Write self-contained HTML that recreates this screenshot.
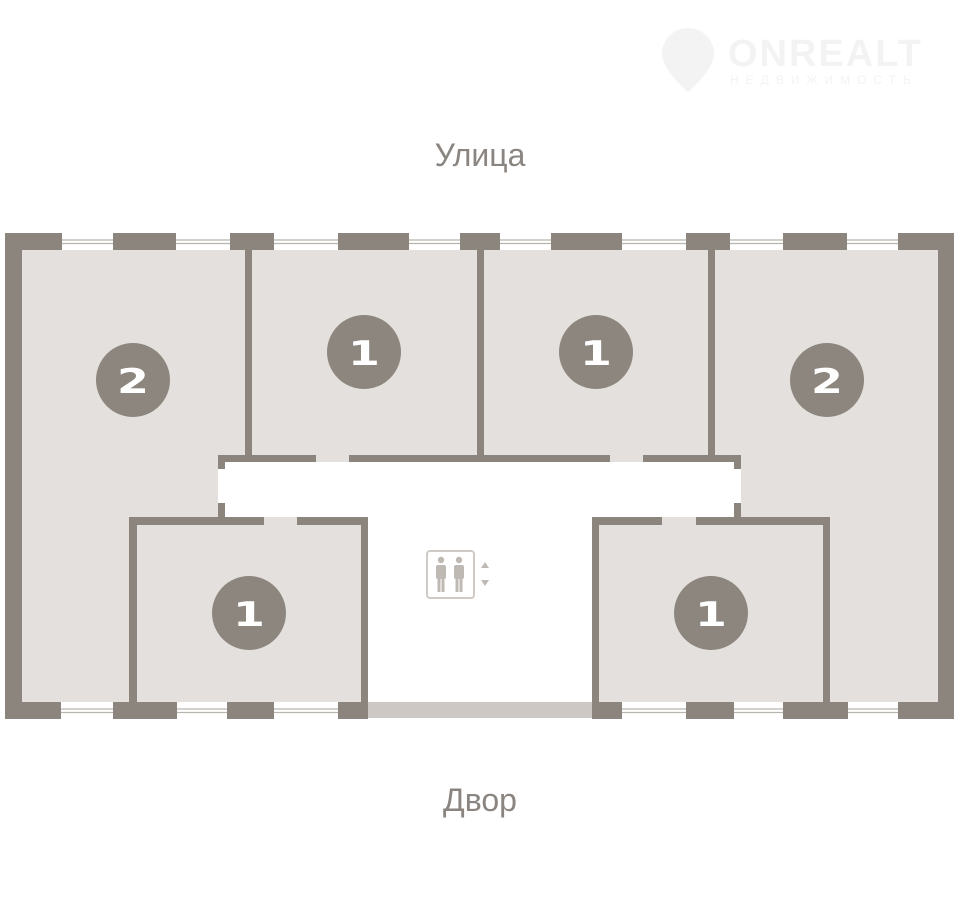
<!DOCTYPE html>
<html><head><meta charset="utf-8"><style>
html,body{margin:0;padding:0;background:#fff;}
svg{display:block;}
</style></head><body>
<svg width="960" height="910" viewBox="0 0 960 910" xmlns="http://www.w3.org/2000/svg">
<rect width="960" height="910" fill="#fff"/>
<!-- logo (faint) -->
<g fill="#f3f3f3">
<path d="M688 28 a26 26 0 0 1 26 26 c0 16 -26 38 -26 38 c0 0 -26 -22 -26 -38 a26 26 0 0 1 26 -26z"/>
<text x="728" y="66" font-family="Liberation Sans, sans-serif" font-weight="bold" font-size="38" letter-spacing="2">ONREALT</text>
<text x="730" y="84" font-family="Liberation Sans, sans-serif" font-size="12" letter-spacing="7">НЕДВИЖИМОСТЬ</text>
</g>
<text x="480" y="166" text-anchor="middle" font-family="Liberation Sans, sans-serif" font-size="32" fill="#8a8580">Улица</text>
<text x="480" y="811" text-anchor="middle" font-family="Liberation Sans, sans-serif" font-size="32" fill="#8a8580">Двор</text>

<!-- floor fill -->
<rect x="22" y="250" width="916" height="452" fill="#e4e0dd"/>
<!-- corridor white -->
<rect x="218" y="462" width="523" height="55" fill="#fff"/>
<rect x="368" y="517" width="224" height="185" fill="#fff"/>
<rect x="368" y="702" width="224" height="16" fill="#cdc8c4"/>

<g fill="#8c857d">
<!-- outer left/right walls -->
<rect x="5" y="233" width="17" height="486"/>
<rect x="938" y="233" width="16" height="486"/>
<!-- top wall solids -->
<rect x="5" y="233" width="57" height="17"/>
<rect x="113" y="233" width="63" height="17"/>
<rect x="230" y="233" width="44" height="17"/>
<rect x="338" y="233" width="71" height="17"/>
<rect x="460" y="233" width="40" height="17"/>
<rect x="551" y="233" width="71" height="17"/>
<rect x="686" y="233" width="44" height="17"/>
<rect x="783" y="233" width="64" height="17"/>
<rect x="898" y="233" width="56" height="17"/>
<!-- bottom wall solids -->
<rect x="5" y="702" width="56" height="17"/>
<rect x="113" y="702" width="64" height="17"/>
<rect x="227" y="702" width="47" height="17"/>
<rect x="338" y="702" width="30" height="17"/>
<rect x="592" y="702" width="30" height="17"/>
<rect x="686" y="702" width="48" height="17"/>
<rect x="783" y="702" width="65" height="17"/>
<rect x="898" y="702" width="56" height="17"/>
<!-- partitions top -->
<rect x="245" y="250" width="7" height="212"/>
<rect x="477" y="250" width="7" height="212"/>
<rect x="708" y="250" width="7" height="212"/>
<!-- corridor top wall -->
<rect x="218" y="455" width="98" height="7"/>
<rect x="349" y="455" width="261" height="7"/>
<rect x="643" y="455" width="98" height="7"/>
<rect x="218" y="455" width="7" height="14"/>
<rect x="218" y="503" width="7" height="14"/>
<rect x="734" y="455" width="7" height="14"/>
<rect x="734" y="503" width="7" height="14"/>
<!-- lower left unit -->
<rect x="129" y="517" width="135" height="8"/>
<rect x="297" y="517" width="71" height="8"/>
<rect x="129" y="517" width="8" height="186"/>
<rect x="361" y="517" width="7" height="186"/>
<!-- lower right unit -->
<rect x="592" y="517" width="70" height="8"/>
<rect x="696" y="517" width="134" height="8"/>
<rect x="592" y="517" width="7" height="186"/>
<rect x="823" y="517" width="7" height="186"/>
</g>

<!-- windows -->
<g stroke="#b9b3ad" stroke-width="1.2">
<path d="M62 240H113M62 243.5H113M176 240H230M176 243.5H230M274 240H338M274 243.5H338M409 240H460M409 243.5H460M500 240H551M500 243.5H551M622 240H686M622 243.5H686M730 240H783M730 243.5H783M847 240H898M847 243.5H898"/>
<path d="M61 709H113M61 712.5H113M177 709H227M177 712.5H227M274 709H338M274 712.5H338M622 709H686M622 712.5H686M734 709H783M734 712.5H783M848 709H898M848 712.5H898"/>
</g>

<!-- circles -->
<g fill="#8d867e">
<circle cx="133" cy="380" r="37"/>
<circle cx="364" cy="352" r="37"/>
<circle cx="596" cy="352" r="37"/>
<circle cx="827" cy="380" r="37"/>
<circle cx="249" cy="613" r="37"/>
<circle cx="711" cy="613" r="37"/>
</g>
<g fill="#fff" font-family="DejaVu Sans, sans-serif" font-weight="bold" font-size="34" text-anchor="middle">
<text x="133" y="393" transform="translate(133 0) scale(1.35 1) translate(-133 0)">2</text>
<text x="364" y="365" transform="translate(364 0) scale(1.35 1) translate(-364 0)">1</text>
<text x="596" y="365" transform="translate(596 0) scale(1.35 1) translate(-596 0)">1</text>
<text x="827" y="393" transform="translate(827 0) scale(1.35 1) translate(-827 0)">2</text>
<text x="249" y="626" transform="translate(249 0) scale(1.35 1) translate(-249 0)">1</text>
<text x="711" y="626" transform="translate(711 0) scale(1.35 1) translate(-711 0)">1</text>
</g>

<!-- elevator icon -->
<rect x="427" y="551" width="47" height="47" rx="3" fill="none" stroke="#cfcac5" stroke-width="2"/>
<g fill="#bfb9b4">
<circle cx="441" cy="560" r="3.2"/>
<rect x="436" y="565" width="10" height="14" rx="2"/>
<rect x="437.5" y="578" width="3" height="14"/>
<rect x="441.5" y="578" width="3" height="14"/>
<circle cx="459" cy="560" r="3.2"/>
<rect x="454" y="565" width="10" height="14" rx="2"/>
<rect x="455.5" y="578" width="3" height="14"/>
<rect x="459.5" y="578" width="3" height="14"/>
<path d="M481 568 L485 562 L489 568Z"/>
<path d="M481 580 L489 580 L485 586Z"/>
</g>
</svg>
</body></html>
